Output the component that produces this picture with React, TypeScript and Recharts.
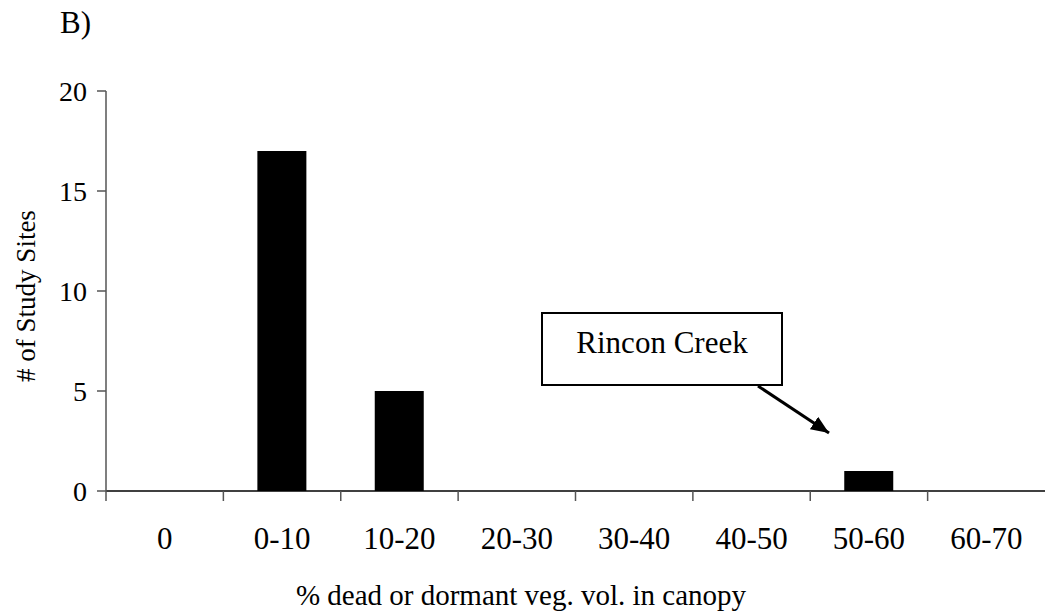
import React from 'react';
import { BarChart, Bar, XAxis, YAxis } from 'recharts';

const categories = ['0', '0-10', '10-20', '20-30', '30-40', '40-50', '50-60', '60-70'];
const siteCounts = [0, 17, 5, 0, 0, 0, 1, 0];
const yTicks = [0, 5, 10, 15, 20];

const chartData = categories.map((range, i) => ({ range, sites: siteCounts[i] }));

const W = 1045;
const H = 615;
const PLOT_LEFT = 106;
const BAND = (W - PLOT_LEFT) / categories.length;
const FONT = '"Liberation Serif", "Times New Roman", serif';

// tick lines sit on the category boundaries, labels in the middle of the band
const XTick = ({ x, y, payload }: any) => {
  const edge = x - BAND / 2;
  return (
    <g>
      <line x1={edge} y1={y} x2={edge} y2={y + 10} stroke="#555" strokeWidth={1.5} />
      <text x={x} y={y + 58} textAnchor="middle" fontSize={31} fontFamily={FONT} fill="#000">
        {payload.value}
      </text>
    </g>
  );
};

const App: React.FC = () => {
  return (
    <div style={{ position: 'absolute', left: 0, top: 0, width: W, height: H, background: '#fff' }}>
      <BarChart
        width={W}
        height={H}
        data={chartData}
        margin={{ top: 91, right: 0, bottom: 0, left: 0 }}
        barSize={49}
      >
        <XAxis
          dataKey="range"
          height={124}
          stroke="#000"
          strokeWidth={1.5}
          tickLine={false}
          tickSize={0}
          tickMargin={0}
          interval={0}
          tick={<XTick />}
        />
        <YAxis
          width={PLOT_LEFT}
          domain={[0, 20]}
          ticks={yTicks}
          interval={0}
          stroke="#555"
          strokeWidth={1.5}
          tickSize={9}
          tickMargin={10}
          tick={{ fontSize: 28, fontFamily: FONT, fill: '#000' }}
        />
        <Bar dataKey="sites" fill="#000" isAnimationActive={false} />
      </BarChart>
      <svg
        width={W}
        height={H}
        style={{ position: 'absolute', left: 0, top: 0, pointerEvents: 'none' }}
      >
        <defs>
          <marker id="arrowHead" markerWidth="6" markerHeight="5" refX="6" refY="2.5" orient="auto">
            <path d="M0,0 L6,2.5 L0,5 Z" fill="#000" />
          </marker>
        </defs>
        <text x={60} y={33} fontSize={31} fontFamily={FONT} fill="#000">B)</text>
        <text
          x={35}
          y={296}
          transform="rotate(-90 35 296)"
          textAnchor="middle"
          fontSize={27}
          fontFamily={FONT}
          fill="#000"
        >
          # of Study Sites
        </text>
        <text x={521} y={605} textAnchor="middle" fontSize={29} fontFamily={FONT} fill="#000">
          % dead or dormant veg. vol. in canopy
        </text>
        <rect x={542} y={313} width={240} height={72} fill="#fff" stroke="#000" strokeWidth={2} />
        <text x={662} y={353} textAnchor="middle" fontSize={31} fontFamily={FONT} fill="#000">
          Rincon Creek
        </text>
        <line
          x1={758}
          y1={386}
          x2={829}
          y2={433}
          stroke="#000"
          strokeWidth={3}
          markerEnd="url(#arrowHead)"
        />
      </svg>
    </div>
  );
};

export default App;
